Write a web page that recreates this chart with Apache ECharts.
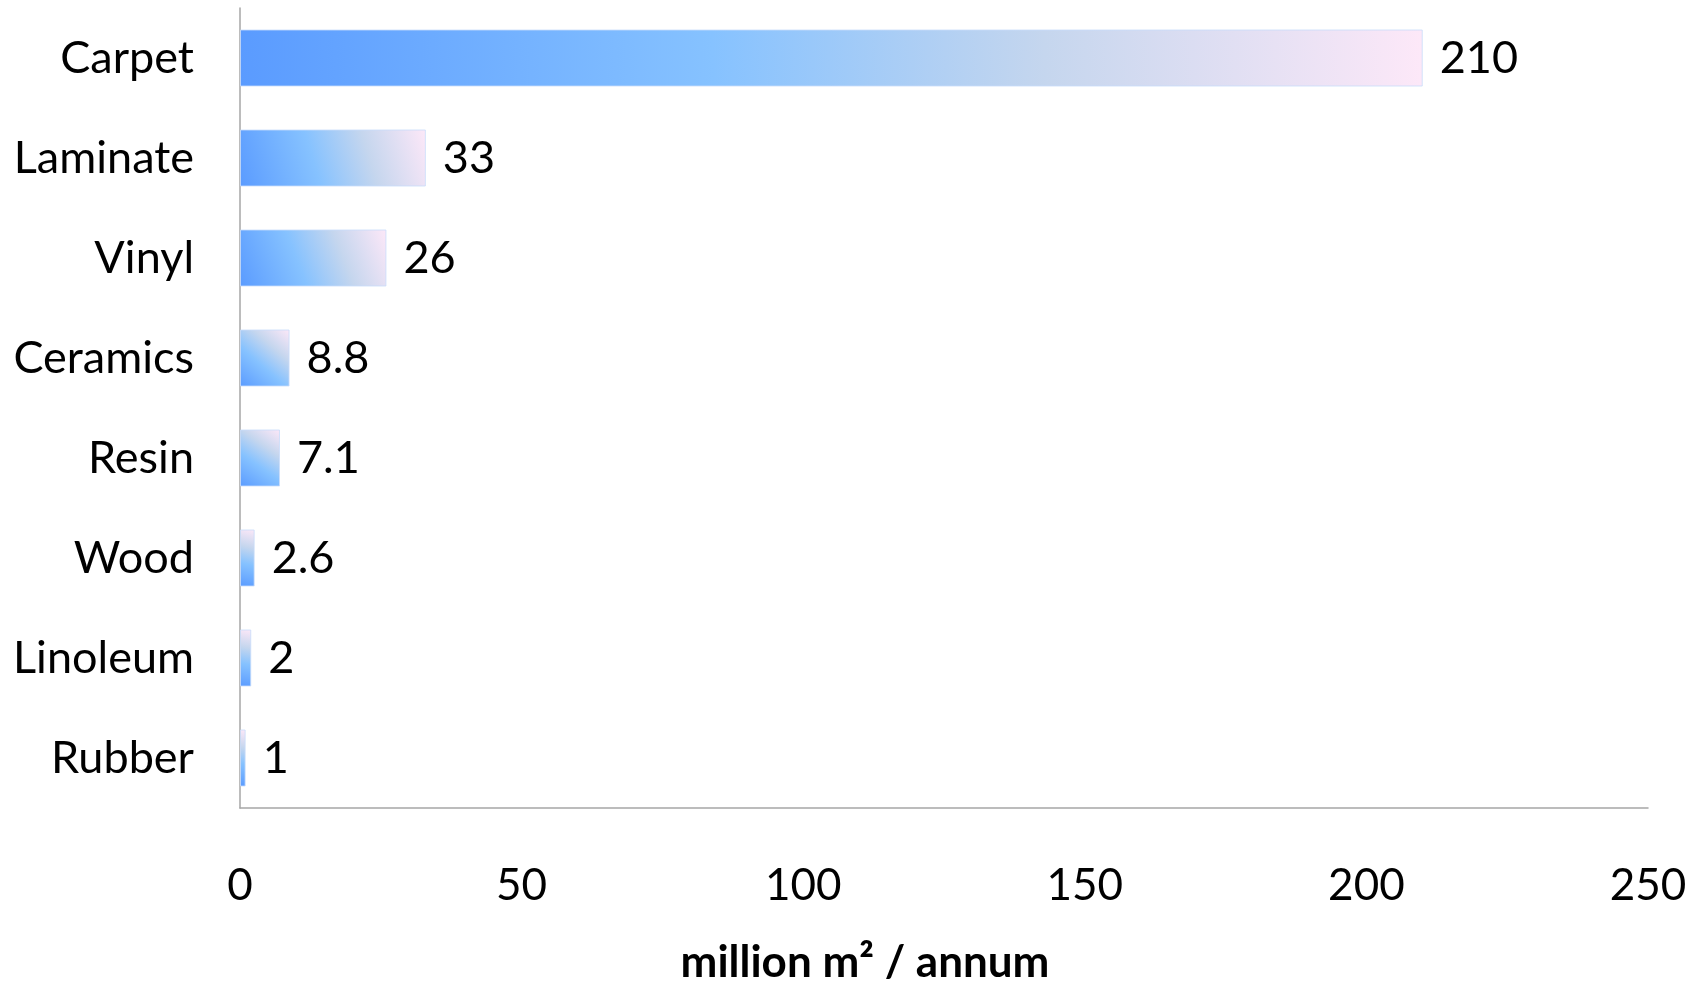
<!DOCTYPE html>
<html>
<head>
<meta charset="utf-8">
<script src="https://cdn.jsdelivr.net/npm/echarts@6/dist/echarts.min.js"></script>
<style>
html,body{margin:0;padding:0;background:#fff;}
#chart{width:1700px;height:985px;}
</style>
</head>
<body>
<div id="chart"></div>
<script>
var categories = ['Carpet', 'Laminate', 'Vinyl', 'Ceramics', 'Resin', 'Wood', 'Linoleum', 'Rubber'];
var values = [210, 33, 26, 8.8, 7.1, 2.6, 2, 1];
var xTicks = [0, 50, 100, 150, 200, 250];
var axisTitle = 'million m\u00B2 / annum';

var FONT = 'Lato';
var chart = echarts.init(document.getElementById('chart'), null, {renderer: 'canvas'});
var barColor = new echarts.graphic.LinearGradient(0, 1, 1, 0, [
  {offset: 0, color: '#5a9bff'},
  {offset: 0.4, color: '#86c2ff'},
  {offset: 0.68, color: '#c5d6ee'},
  {offset: 1, color: '#fde8f8'}
]);
chart.setOption({
  backgroundColor: '#ffffff',
  animation: false,
  grid: {left: 240, right: 52, top: 8, bottom: 177, containLabel: false, outerBoundsMode: 'none'},
  xAxis: {
    type: 'value',
    min: xTicks[0],
    max: xTicks[xTicks.length - 1],
    interval: xTicks[1] - xTicks[0],
    name: axisTitle,
    nameLocation: 'middle',
    nameGap: 133,
    nameTextStyle: {fontFamily: FONT, fontSize: 44, fontWeight: 'bold', color: '#000', padding: [0, 158, 0, 0]},
    axisLine: {show: true, lineStyle: {color: '#a6a6a6', width: 1.5}},
    axisTick: {show: false},
    splitLine: {show: false},
    axisLabel: {fontFamily: FONT, fontSize: 44, color: '#000', margin: 56}
  },
  yAxis: {
    type: 'category',
    data: categories,
    inverse: true,
    axisLine: {show: true, lineStyle: {color: '#a6a6a6', width: 1.5}},
    axisTick: {show: false},
    axisLabel: {fontFamily: FONT, fontSize: 45, color: '#000', margin: 46, padding: [9, 0, 0, 0]}
  },
  series: [{
    type: 'bar',
    data: values,
    barWidth: 57,
    itemStyle: {color: barColor, borderColor: 'rgba(200,220,250,0.8)', borderWidth: 1},
    label: {show: true, position: 'right', distance: 17, fontFamily: FONT, fontSize: 45, color: '#000', padding: [10, 0, 0, 0]}
  }]
});
</script>
</body>
</html>
